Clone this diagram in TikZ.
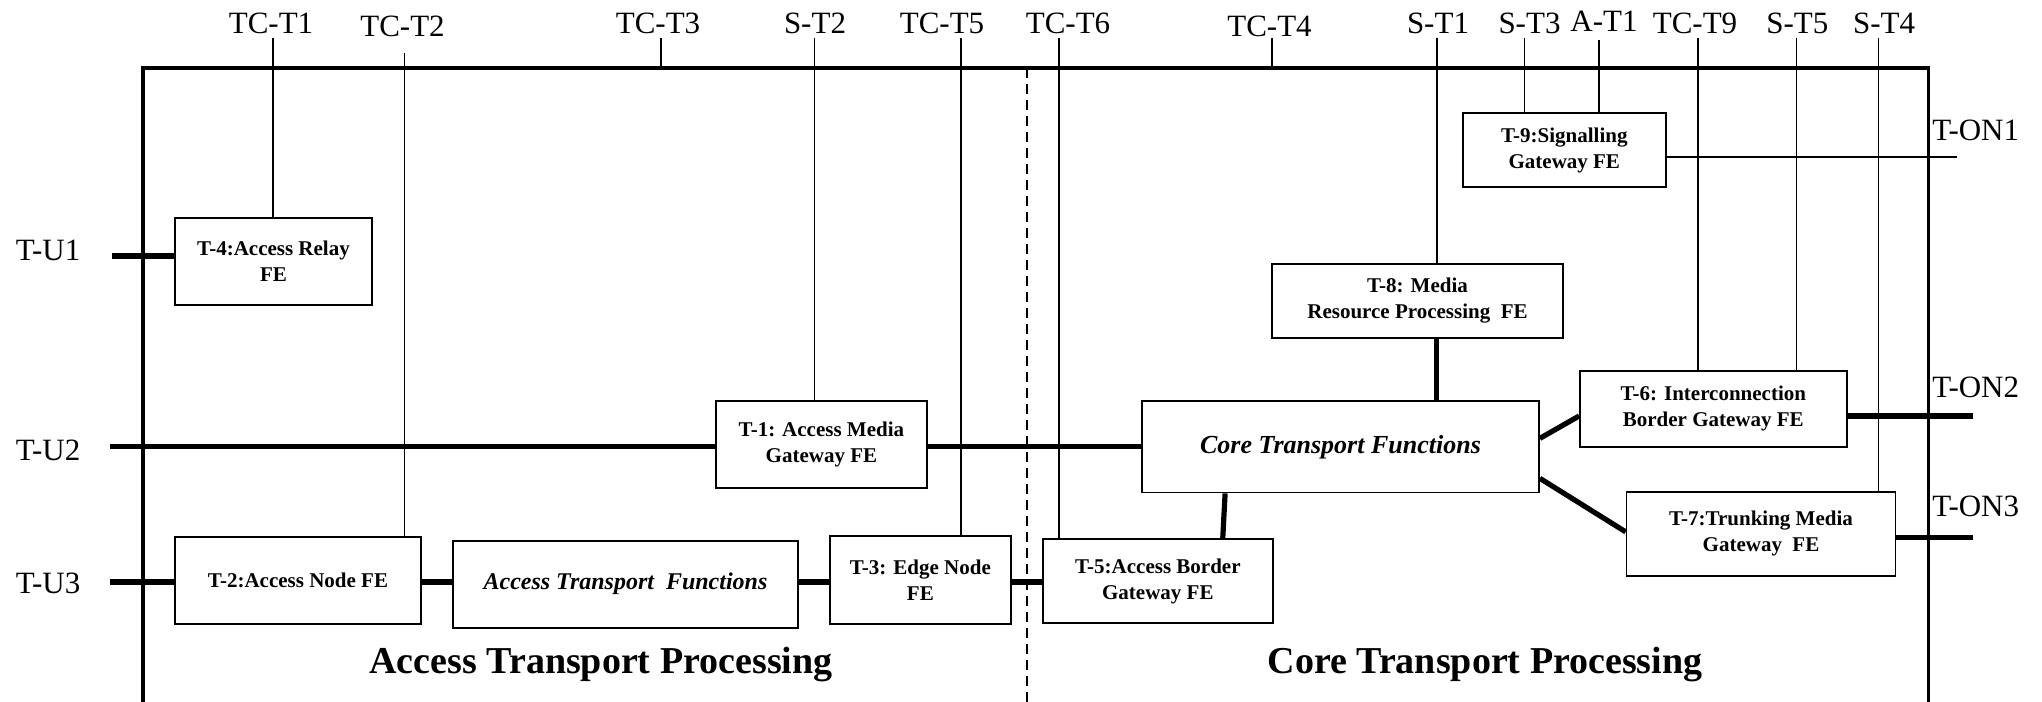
\documentclass[tikz,border=0pt]{standalone}
\usepackage{fontspec}
\setmainfont{Liberation Serif}
\begin{document}
\begin{tikzpicture}[x=0.5pt,y=-0.5pt]
\tikzset{
  lbl/.style={font=\fontsize{15.5}{18}\selectfont, inner sep=0, anchor=base},
  lblw/.style={lbl, anchor=base west},
  fe/.style={draw, line width=0.9pt, inner sep=0, align=center, font=\bfseries\fontsize{10.5}{13}\selectfont},
  fn/.style={fe, font=\bfseries\itshape\fontsize{12}{14}\selectfont},
  thinln/.style={line width=0.8pt},
  thickln/.style={line width=2.6pt},
  frameln/.style={line width=1.9pt},
  big/.style={font=\bfseries\fontsize{19}{22}\selectfont, inner sep=0, anchor=base},
}
\useasboundingbox (0,0) rectangle (2042,702);

% boxes
\node[fe, minimum width=98.5pt, minimum height=43.5pt] (t4) at (273.5,261.2) {T-4:Access Relay\\FE};
\node[fe, minimum width=123pt, minimum height=43.5pt] (t2) at (298,580.8) {T-2:Access Node FE};
\node[fn, minimum width=172.5pt, minimum height=43.5pt] (atf) at (625.5,584.2) {Access Transport~~Functions};
\node[fe, minimum width=90.35pt, minimum height=44pt] (t3) at (920.35,580) {T-3: Edge Node\\FE};
\node[fe, minimum width=115pt, minimum height=41.7pt] (t5) at (1157.85,581) {T-5:Access Border\\Gateway FE};
\node[fe, minimum width=105.8pt, minimum height=43.65pt] (t1) at (821.4,444.65) {T-1: Access Media\\Gateway FE};
\node[fn, minimum width=198.5pt, minimum height=45.75pt, font=\bfseries\itshape\fontsize{13}{15}\selectfont] (ctf) at (1340.5,446.75) {Core Transport Functions};
\node[fe, minimum width=145.5pt, minimum height=37pt] (t8) at (1417.5,301) {T-8: Media\\Resource Processing~~FE};
\node[fe, minimum width=101.5pt, minimum height=37pt] (t9) at (1564.3,150) {T-9:Signalling\\Gateway FE};
\node[fe, minimum width=133.3pt, minimum height=38pt] (t6) at (1713.3,408.7) {T-6: Interconnection\\Border Gateway FE};
\node[fe, minimum width=134.45pt, minimum height=42.15pt] (t7) at (1761,533.85) {T-7:Trunking Media\\Gateway~~FE};

% frame and divider
\coordinate (ftop) at (0,68.3);
\draw[thinln, dash pattern=on 5pt off 3pt] (1027,68.3) -- (1027,702);

% top labels
\node[lbl] (lTCT1) at (271,33) {TC-T1};
\node[lbl] (lTCT2) at (402.5,36.5) {TC-T2};
\node[lbl] (lTCT3) at (658,33) {TC-T3};
\node[lbl] (lST2) at (815,33) {S-T2};
\node[lbl] (lTCT5) at (942,33) {TC-T5};
\node[lbl] (lTCT6) at (1068,33) {TC-T6};
\node[lbl] (lTCT4) at (1269.5,36.5) {TC-T4};
\node[lbl] (lST1) at (1438,33) {S-T1};
\node[lbl] (lST3) at (1529.5,33) {S-T3};
\node[lbl] (lAT1) at (1604,31) {A-T1};
\node[lbl] (lTCT9) at (1695,33) {TC-T9};
\node[lbl] (lST5) at (1797.4,33) {S-T5};
\node[lbl] (lST4) at (1884,33) {S-T4};

\coordinate (cTCT1) at (273,38);
\coordinate (cTCT2) at (404.5,53);
\coordinate (cTCT3) at (661,38);
\coordinate (cST2) at (814.3,38);
\coordinate (cTCT5) at (961,38);
\coordinate (cTCT6) at (1059,38);
\coordinate (cTCT4) at (1272,38);
\coordinate (cST1) at (1436.8,38);
\coordinate (cST3) at (1524.3,38);
\coordinate (cAT1) at (1599,40);
\coordinate (cTCT9) at (1698,38);
\coordinate (cST5) at (1796.5,38);
\coordinate (cST4) at (1878.3,38);

\draw[thinln] (cTCT1) -- (cTCT1 |- t4.north);
\draw[thinln] (cTCT2) -- (cTCT2 |- t2.north);
\draw[thinln] (cTCT3) -- (cTCT3 |- ftop);
\draw[thinln] (cST2) -- (cST2 |- t1.north);
\draw[thinln] (cTCT5) -- (cTCT5 |- t3.north);
\draw[thinln] (cTCT6) -- (cTCT6 |- t5.north);
\draw[thinln] (cTCT4) -- (cTCT4 |- ftop);
\draw[thinln] (cST1) -- (cST1 |- t8.north);
\draw[thinln] (cST3) -- (cST3 |- t9.north);
\draw[thinln] (cAT1) -- (cAT1 |- t9.north);
\draw[thinln] (cTCT9) -- (cTCT9 |- t6.north);
\draw[thinln] (cST5) -- (cST5 |- t6.north);
\draw[thinln] (cST4) -- (cST4 |- t7.north);

% side labels
\node[lblw] (lTU1) at (15.6,260) {T-U1};
\node[lblw] (lTU2) at (15.6,460) {T-U2};
\node[lblw] (lTU3) at (15.6,593) {T-U3};
\node[lblw] (lTON1) at (1932,140) {T-ON1};
\node[lblw] (lTON2) at (1932,397) {T-ON2};
\node[lblw] (lTON3) at (1932,516.7) {T-ON3};

\coordinate (u1) at (111.6,256);
\coordinate (u2) at (110,446.7);
\coordinate (u3) at (110,582);
\coordinate (on1) at (1957,156.7);
\coordinate (on2) at (1973,416);
\coordinate (on3) at (1973,537.3);

% thin T-ON1 line
\draw[thinln] (on1 -| t9.east) -- (on1);

% frame
\draw[frameln] (143,702) -- (143,68.3) -- (1928.5,68.3) -- (1928.5,702);

% thick connectors
\draw[thickln] (u1) -- (u1 -| t4.west);
\draw[thickln] (u2) -- (u2 -| t1.west);
\draw[thickln] (u2 -| t1.east) -- (u2 -| ctf.west);
\draw[thickln] (u3) -- (u3 -| t2.west);
\draw[thickln] (u3 -| t2.east) -- (u3 -| atf.west);
\draw[thickln] (u3 -| atf.east) -- (u3 -| t3.west);
\draw[thickln] (u3 -| t3.east) -- (u3 -| t5.west);
\draw[thickln] ([xshift=42pt]ctf.south west) -- ([xshift=90.4pt]t5.north west);
\draw[thickln] (cST1 |- t8.south) -- (cST1 |- ctf.north);
\draw[thickln] ([yshift=4.2pt]ctf.east) -- ([yshift=-3.65pt]t6.west);
\draw[thickln] ([yshift=-15.8pt]ctf.east) -- ([yshift=1pt]t7.west);
\draw[thickln] (on2 -| t6.east) -- (on2);
\draw[thickln] (on3 -| t7.east) -- (on3);

% region titles
\node[big] (atp) at (601,673) {Access Transport Processing};
\node[big] (ctp) at (1485,673) {Core Transport Processing};
\end{tikzpicture}
\end{document}
